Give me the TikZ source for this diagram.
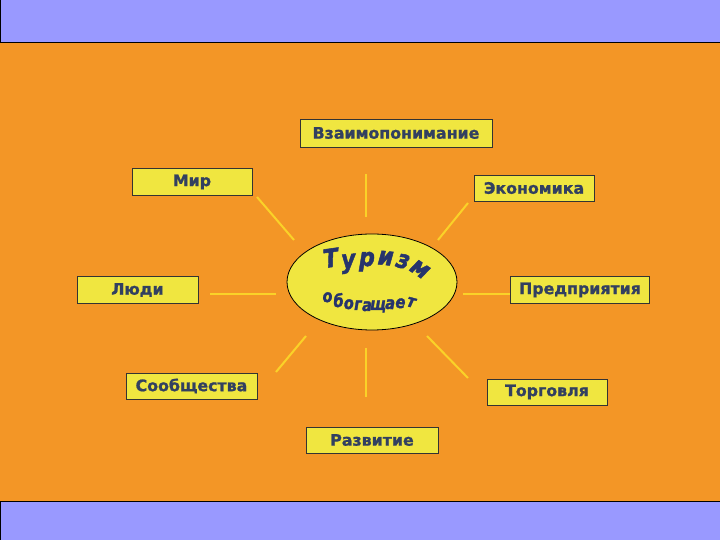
\documentclass[tikz,border=0pt]{standalone}
\usepackage{fontspec}
\usetikzlibrary{shapes.geometric}
\newfontfamily\boxfont{DejaVu Sans}[BoldFeatures={FakeBold=1.2},
  BoldItalicFeatures={FakeBold=2}]
\definecolor{bgorange}{RGB}{243,150,38}
\definecolor{bandblue}{RGB}{153,153,255}
\definecolor{boxyellow}{RGB}{240,230,64}
\definecolor{boxtext}{RGB}{50,64,96}
\definecolor{raycol}{RGB}{250,210,40}
\definecolor{hubtext}{RGB}{38,52,108}
\tikzset{
  topic/.style={draw=black!80,line width=0.8pt,fill=boxyellow,inner sep=0pt,
    minimum height=27,font=\boxfont\bfseries\fontsize{15.8}{18}\selectfont,
    text=boxtext},
  ray/.style={draw=raycol,line width=2pt},
  bigletter/.style={inner sep=0pt,anchor=base,text=hubtext,
    font=\boxfont\bfseries\itshape\fontsize{22}{22}\selectfont},
  smallletter/.style={inner sep=0pt,anchor=base,text=hubtext,
    font=\boxfont\bfseries\itshape\fontsize{14.5}{15}\selectfont},
}

\begin{document}
\begin{tikzpicture}[x=1pt,y=1pt] % "sun" of tourism

\useasboundingbox (0,0) rectangle (720,540);
\fill[bgorange] (0,0) rectangle (720,540);
\filldraw[fill=bandblue,draw=black,line width=1pt] (0.5,497) rectangle (721,541);
\filldraw[fill=bandblue,draw=black,line width=1pt] (0.5,-1) rectangle (721,38);

% centre
\node[ellipse,draw=black,line width=0.8pt,fill=boxyellow,minimum width=170,
  minimum height=96,inner sep=0pt] (hub) at (372,258) {};
\foreach \ch/\xx/\yy/\aa [count=\i] in {Т/332/273/8, у/349/272/5, р/367/274/0,
  и/385/275/-6, з/401/272/-16, м/416/265/-34}
  { \node[bigletter,rotate=\aa] (big\i) at (\xx,\yy) {\scalebox{1}[1.15]{\ch}}; }
\foreach \ch/\xx/\yy/\aa [count=\i] in {о/328/238/6, б/339/233/4, о/349/231/2,
  г/358/230/0, а/367/229/0, щ/378/230/0, а/390/231/-2, е/400/232/-5,
  т/410/233/-15}
  { \node[smallletter,rotate=\aa] (small\i) at (\xx,\yy) {\scalebox{1}[1.2]{\ch}}; }

% rays
\foreach \xa/\ya/\xb/\yb in {366/366/366/323, 257/343/294/300, 468/337/438/300,
  210/246/276/246, 463/246/510/246, 306/204/276/168, 366/192/366/143,
  427/204/468/162}
  { \draw[ray] (\xa,\ya) -- (\xb,\yb); }

% topics
\node[topic,minimum width=192,minimum height=28] (vzaim) at (396,407) {Взаимопонимание};
\node[topic,minimum width=120] (mir) at (192,358) {Мир};
\node[topic,minimum width=120,minimum height=26] (ekon) at (534,352) {Экономика};
\node[topic,minimum width=121] (lyudi) at (137.5,250) {Люди};
\node[topic,minimum width=139] (pred) at (580,250) {Предприятия};
\node[topic,minimum width=131,minimum height=26] (soob) at (191.5,154) {Сообщества};
\node[topic,minimum width=120,minimum height=26] (torg) at (547,148) {Торговля};
\node[topic,minimum width=132,minimum height=26] (razv) at (372,100) {Развитие};
\end{tikzpicture}
\end{document}
